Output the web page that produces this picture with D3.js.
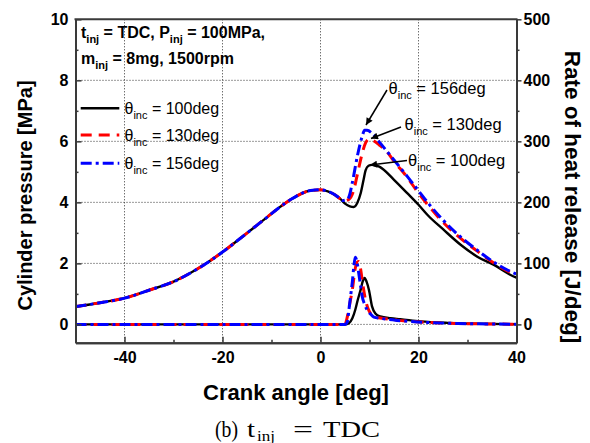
<!DOCTYPE html>
<html>
<head>
<meta charset="utf-8">
<script src="https://cdn.jsdelivr.net/npm/d3@7/dist/d3.min.js"></script>
<style>
  body { margin: 0; background: #fff; }
  text { font-family: "Liberation Sans", Arial, sans-serif; }
</style>
</head>
<body>
<div id="chart"></div>
<script>
// Cylinder pressure + rate of heat release vs crank angle

// shared compression part of the pressure trace
const crankComp = [-50, -45, -40, -35, -30, -25, -20, -17, -14, -11, -8, -6, -4, -2, 0, 1.5, 3, 4];
const presComp = [0.58, 0.71, 0.86, 1.12, 1.40, 1.83, 2.37, 2.74, 3.12, 3.50, 3.88, 4.10, 4.28, 4.39, 4.41, 4.36, 4.24, 4.12];

// combustion part of pressure (MPa)
const crankP100 = [5, 6, 6.8, 7.5, 8.2, 8.8, 9.2, 9.8, 10.5, 12, 15, 17.7, 20, 22, 25, 28.6, 32, 35.4, 38.8, 40];
const presP100 = [3.96, 3.87, 3.85, 3.98, 4.30, 4.75, 5.05, 5.20, 5.23, 5.17, 4.74, 4.30, 3.92, 3.56, 3.12, 2.61, 2.22, 1.95, 1.62, 1.53];
const crankP130 = [5, 5.8, 6.8, 7.5, 8.5, 9.2, 10, 10.5, 12, 13.6, 15, 17.7, 20, 22, 25, 28, 32, 35, 38.8, 40];
const presP130 = [4.05, 4.10, 4.41, 4.90, 5.60, 5.95, 6.08, 6.05, 5.88, 5.65, 5.35, 4.82, 4.30, 3.90, 3.35, 2.90, 2.40, 2.05, 1.70, 1.62];
const crankP156 = [4.5, 5.2, 5.8, 6.5, 7.5, 8.5, 9, 9.5, 10.5, 12.2, 15, 17.7, 20, 22, 25, 28, 32, 35, 38.8, 40];
const presP156 = [4.06, 4.08, 4.18, 4.65, 5.50, 6.16, 6.36, 6.36, 6.27, 5.94, 5.39, 4.85, 4.38, 3.97, 3.42, 2.95, 2.43, 2.08, 1.73, 1.65];

// rate of heat release (J/deg)
const crankH100 = [-50, 5, 5.8, 6.5, 7.1, 7.6, 8.2, 8.6, 9.0, 9.4, 9.9, 10.5, 11.2, 12.2, 14.3, 16.3, 20.4, 26, 32.6, 40];
const hrr100 = [0, 0, 2, 10, 24, 40, 57, 70, 76, 70, 56, 30, 18, 13, 10, 8.5, 5, 2.5, 1, 0.3];
const crankH130 = [-50, 5, 5.4, 6, 6.5, 7.1, 7.5, 7.8, 8.2, 8.5, 9.2, 9.7, 10.2, 11.2, 12.2, 15.6, 19.7, 28, 40];
const hrr130 = [0, 0, 10, 35, 57, 92, 102, 103, 90, 73, 40, 26, 18, 12, 10.5, 7, 4.3, 1.5, 0.3];
const crankH156 = [-50, 5, 5.5, 5.8, 6.2, 6.5, 6.8, 7.1, 7.5, 7.8, 8.2, 8.5, 9, 9.5, 10.2, 10.9, 12.2, 15.6, 19.7, 28, 40];
const hrr156 = [0, 0, 5, 24, 50, 70, 95, 110, 100, 84, 62, 46, 33, 24, 17, 12, 10, 6.5, 4, 1.5, 0.3];

const xTicks = [-40, -20, 0, 20, 40];
const pTicks = [0, 2, 4, 6, 8, 10];
const hTicks = [0, 100, 200, 300, 400, 500];
const legendLabels = ['100deg', '130deg', '156deg'];

const width = 590, height = 443;
const plotLeft = 75.5, plotRight = 516.5, plotTop = 19.3, plotBottom = 342.7;

const svg = d3.select('#chart').append('svg')
    .attr('width', width)
    .attr('height', height);

const x = d3.scaleLinear().domain([-50, 40]).range([plotLeft, plotRight]);
const yP = d3.scaleLinear().domain([-0.6, 10]).range([plotBottom, plotTop]);
const yH = d3.scaleLinear().domain([-30, 500]).range([plotBottom, plotTop]);

const defs = svg.append('defs');
defs.append('clipPath').attr('id', 'plotclip')
    .append('rect')
    .attr('x', plotLeft).attr('y', plotTop)
    .attr('width', plotRight - plotLeft).attr('height', plotBottom - plotTop);

// dotted grid
const grid = svg.append('g');
[-40, -20, 0, 20].forEach(v => {
    grid.append('line')
        .attr('x1', x(v)).attr('x2', x(v))
        .attr('y1', plotTop).attr('y2', plotBottom)
        .attr('stroke', '#333').attr('stroke-width', 1)
        .attr('stroke-dasharray', '1,2');
});
[0, 2, 4, 6, 8].forEach(v => {
    grid.append('line')
        .attr('x1', plotLeft).attr('x2', plotRight)
        .attr('y1', yP(v)).attr('y2', yP(v))
        .attr('stroke', '#333').attr('stroke-width', 1)
        .attr('stroke-dasharray', '1,2');
});

// series styles
const styles = {
    b: { color: '#000000', dash: null },
    r: { color: '#ff0000', dash: '11,7' },
    u: { color: '#0000ff', dash: '11,4,3,4' }
};

const lineP = d3.line().x(d => x(d[0])).y(d => yP(d[1])).curve(d3.curveMonotoneX);
const lineH = d3.line().x(d => x(d[0])).y(d => yH(d[1])).curve(d3.curveMonotoneX);

function pairs(xs, ys) { return xs.map((v, i) => [v, ys[i]]); }

const series = [
    { key: 'b', p: pairs(crankComp.concat(crankP100), presComp.concat(presP100)), h: pairs(crankH100, hrr100) },
    { key: 'r', p: pairs(crankComp.concat(crankP130), presComp.concat(presP130)), h: pairs(crankH130, hrr130) },
    { key: 'u', p: pairs(crankComp.concat(crankP156), presComp.concat(presP156)), h: pairs(crankH156, hrr156) }
];

const plot = svg.append('g').attr('clip-path', 'url(#plotclip)');
series.forEach(s => {
    const st = styles[s.key];
    [lineH(s.h), lineP(s.p)].forEach(d => {
        plot.append('path')
            .attr('d', d)
            .attr('fill', 'none')
            .attr('stroke', st.color)
            .attr('stroke-width', s.key === 'b' ? 2.4 : 3)
            .attr('stroke-dasharray', st.dash);
    });
});

// axes
const axisColor = '#3a3a3a';
const plain = d => String(d);
function styleAxis(g) {
    g.select('.domain').attr('stroke', axisColor).attr('stroke-width', 2);
    g.selectAll('.tick line').attr('stroke', axisColor).attr('stroke-width', 1.5);
    g.selectAll('.tick text')
        .attr('fill', '#000')
        .style('font-size', '16px')
        .style('font-weight', 'bold')
        .style('font-family', '"Liberation Sans", Arial, sans-serif');
}

svg.append('g')
    .attr('transform', `translate(${plotLeft},0)`)
    .call(d3.axisLeft(yP).tickValues([1, 3, 5, 7, 9]).tickSize(-3).tickSizeOuter(0).tickFormat(''))
    .call(styleAxis);
svg.append('g')
    .attr('transform', `translate(${plotLeft},0)`)
    .call(d3.axisLeft(yP).tickValues(pTicks).tickSize(-6).tickSizeOuter(0).tickPadding(7).tickFormat(plain))
    .call(styleAxis);

svg.append('g')
    .attr('transform', `translate(0,${plotBottom})`)
    .call(d3.axisBottom(x).tickValues([-30, -10, 10, 30]).tickSize(-3).tickSizeOuter(0).tickFormat(''))
    .call(styleAxis);
svg.append('g')
    .attr('transform', `translate(0,${plotBottom})`)
    .call(d3.axisBottom(x).tickValues(xTicks).tickSize(-6).tickSizeOuter(0).tickPadding(9).tickFormat(plain))
    .call(styleAxis);

svg.append('g')
    .attr('transform', `translate(${plotRight},0)`)
    .call(d3.axisRight(yH).tickValues([50, 150, 250, 350, 450]).tickSize(3).tickSizeOuter(0).tickFormat(''))
    .call(styleAxis);
svg.append('g')
    .attr('transform', `translate(${plotRight},0)`)
    .call(d3.axisRight(yH).tickValues(hTicks).tickSize(5).tickSizeOuter(0).tickPadding(2).tickFormat(plain))
    .call(styleAxis);

// top frame line
svg.append('line')
    .attr('x1', plotLeft - 1).attr('x2', plotRight + 1)
    .attr('y1', plotTop).attr('y2', plotTop)
    .attr('stroke', axisColor).attr('stroke-width', 2);

// axis titles
svg.append('text')
    .attr('transform', 'translate(32,195.5) rotate(-90)')
    .attr('text-anchor', 'middle')
    .style('font-size', '20px').style('font-weight', 'bold')
    .text('Cylinder pressure [MPa]');

svg.append('text')
    .attr('transform', 'translate(565,197) rotate(90)')
    .attr('text-anchor', 'middle')
    .style('font-size', '22.5px').style('font-weight', 'bold')
    .text('Rate of heat release [J/deg]');

svg.append('text')
    .attr('x', 296).attr('y', 400)
    .attr('text-anchor', 'middle')
    .style('font-size', '22px').style('font-weight', 'bold')
    .text('Crank angle [deg]');

// caption: the original is a horizontally stretched serif line
const capFont = '"Liberation Serif", "Times New Roman", serif';
const capY = 437;
[
    { t: '(b)', x: 215, size: 23, len: 23 },
    { t: 't', x: 247, size: 23, len: 8 },
    { t: 'inj', x: 257, size: 15, dy: 4, len: 18 },
    { t: '=', x: 293, size: 23, len: 20 },
    { t: 'TDC', x: 323, size: 23, len: 57 }
].forEach(p => {
    svg.append('text')
        .attr('x', p.x).attr('y', capY + (p.dy || 0))
        .attr('textLength', p.len).attr('lengthAdjust', 'spacingAndGlyphs')
        .style('font-family', capFont)
        .style('font-size', p.size + 'px')
        .text(p.t);
});

// text with subscripts
function subText(g, xx, yy, parts, size, subSize, weight) {
    const t = g.append('text').attr('x', xx).attr('y', yy)
        .style('font-size', size + 'px').style('font-weight', weight);
    let shift = 0;
    parts.forEach(p => {
        const sp = t.append('tspan').text(p.t);
        if (p.sub) {
            sp.attr('dy', 5 - shift).style('font-size', subSize + 'px');
            shift = 5;
        } else {
            sp.attr('dy', -shift);
            shift = 0;
        }
    });
    return t;
}

subText(svg, 81, 37.5, [
    { t: 't' }, { t: 'inj', sub: true }, { t: ' = TDC, P' }, { t: 'inj', sub: true }, { t: ' = 100MPa,' }
], 16, 11, 'bold');
subText(svg, 81, 64, [
    { t: 'm' }, { t: 'inj', sub: true }, { t: ' = 8mg, 1500rpm' }
], 16, 11, 'bold');

// legend
['b', 'r', 'u'].forEach((k, i) => {
    const yy = [108.3, 135, 163.3][i];
    svg.append('line')
        .attr('x1', 80.7).attr('x2', 119.3)
        .attr('y1', yy).attr('y2', yy)
        .attr('stroke', styles[k].color)
        .attr('stroke-width', k === 'b' ? 2.4 : 3)
        .attr('stroke-dasharray', styles[k].dash);
    subText(svg, 124.5, yy + 5.5, [
        { t: 'θ' }, { t: 'inc', sub: true }, { t: ' = ' + legendLabels[i] }
    ], 16, 11, 'normal');
});

// arrow annotations
defs.append('marker')
    .attr('id', 'arrowhead')
    .attr('viewBox', '0 0 10 10')
    .attr('refX', 10).attr('refY', 5)
    .attr('markerWidth', 9).attr('markerHeight', 7)
    .attr('markerUnits', 'userSpaceOnUse')
    .attr('orient', 'auto')
    .append('path')
    .attr('d', 'M0,0 L10,5 L0,10 Z')
    .attr('fill', '#000');

const notes = [
    { label: '156deg', tx: 388.5, ty: 93.5, from: [387, 90], to: [366, 125] },
    { label: '130deg', tx: 404.5, ty: 129.5, from: [401, 127], to: [371, 138.5] },
    { label: '100deg', tx: 408, ty: 166, from: [407, 160.5], to: [370, 165] }
];
notes.forEach(n => {
    svg.append('line')
        .attr('x1', n.from[0]).attr('y1', n.from[1])
        .attr('x2', n.to[0]).attr('y2', n.to[1])
        .attr('stroke', '#000').attr('stroke-width', 1.5)
        .attr('marker-end', 'url(#arrowhead)');
    subText(svg, n.tx, n.ty, [
        { t: 'θ' }, { t: 'inc', sub: true }, { t: ' = ' + n.label }
    ], 16.5, 11, 'normal');
});
</script>
</body>
</html>
